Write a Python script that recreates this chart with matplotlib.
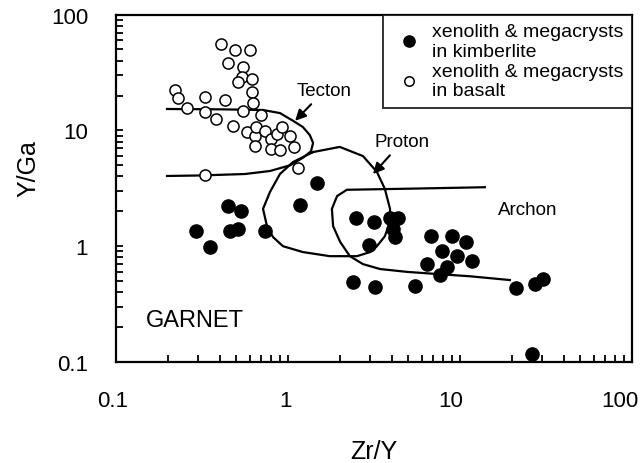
"""Diagrama Y/Ga contra Zr/Y para granadas de xenólitos e megacristais."""

import matplotlib

matplotlib.use("Agg")

import matplotlib.pyplot as plt  # noqa: E402
from matplotlib.ticker import FixedLocator, LogLocator  # noqa: E402
from matplotlib.transforms import ScaledTranslation  # noqa: E402

plt.rcParams["font.family"] = ["Liberation Sans", "DejaVu Sans"]

# granadas em kimberlito (círculos cheios)
KIMB_ZR_Y = [0.45, 0.53, 0.46, 0.51, 0.29, 0.35, 0.74, 1.17, 1.47, 2.49,
             3.16, 3.92, 4.36, 4.10, 4.19, 2.97, 2.38, 3.21, 5.48, 6.40,
             6.80, 8.95, 10.8, 7.83, 9.57, 11.7, 8.36, 7.65, 21.2, 27.3,
             30.5, 26.1]
KIMB_Y_GA = [2.21, 2.03, 1.36, 1.41, 1.36, 0.98, 1.35, 2.27, 3.48, 1.74,
             1.61, 1.74, 1.74, 1.41, 1.19, 1.02, 0.49, 0.44, 0.45, 0.70,
             1.23, 1.22, 1.08, 0.90, 0.83, 0.75, 0.66, 0.56, 0.435, 0.47,
             0.52, 0.117]

# granadas em basalto (círculos vazios)
BAS_ZR_Y = [0.41, 0.49, 0.60, 0.45, 0.55, 0.54, 0.62, 0.51, 0.62, 0.22,
            0.23, 0.26, 0.33, 0.43, 0.63, 0.33, 0.38, 0.48, 0.55, 0.70,
            0.58, 0.64, 0.65, 0.74, 0.64, 0.80, 0.86, 0.92, 1.03, 0.80,
            0.90, 1.08, 1.15, 0.33]
BAS_Y_GA = [55.7, 49.8, 49.8, 38.2, 35.1, 28.7, 27.8, 26.3, 21.6, 22.3,
            18.9, 15.6, 19.3, 18.3, 17.2, 14.3, 12.5, 11.0, 14.8, 13.6,
            9.63, 8.89, 10.6, 9.94, 7.38, 8.43, 9.31, 10.8, 8.89, 6.91,
            6.81, 7.15, 4.71, 4.14]

# campos (contornos)
TECTON_X = [0.198, 0.403, 0.716, 0.899, 1.07, 1.22, 1.34, 1.40, 1.36, 1.22,
            1.03, 0.786, 0.562, 0.308, 0.198]
TECTON_Y = [15.3, 15.2, 15.0, 14.1, 12.1, 10.7, 9.1, 7.8, 6.6, 5.8,
            5.0, 4.46, 4.20, 4.08, 4.04]

PROTON_X = [1.40, 2.00, 2.73, 3.29, 3.66, 3.92, 3.92, 3.66, 3.29, 3.00,
            2.52, 1.75, 1.22, 0.935, 0.818, 0.755, 0.716, 0.786, 0.898,
            1.07, 1.40]
PROTON_Y = [6.5, 7.2, 6.0, 4.38, 3.12, 2.10, 1.62, 1.22, 1.00, 0.89,
            0.82, 0.82, 0.89, 1.00, 1.20, 1.49, 2.10, 2.94, 4.20, 5.33, 6.5]

ARCHON_X = [13.96, 5.85, 2.20, 1.93, 1.80, 1.83, 2.01, 2.29, 2.73, 3.43,
            4.92, 7.35, 11.4, 19.5]
ARCHON_Y = [3.23, 3.15, 3.07, 2.71, 2.10, 1.49, 1.09, 0.82, 0.70, 0.635,
            0.60, 0.575, 0.55, 0.51]

TICKS = [0.1, 1, 10, 100]
TICK_LABELS = ["0.1", "1", "10", "100"]


def main() -> None:
    fig = plt.figure(figsize=(6.44, 4.64), dpi=100)
    ax = fig.add_axes([0.1801, 0.2177, 0.8012, 0.7487])

    for xs, ys in ((TECTON_X, TECTON_Y), (PROTON_X, PROTON_Y), (ARCHON_X, ARCHON_Y)):
        ax.plot(xs, ys, color="black", linewidth=1.6, zorder=2)

    ax.plot(KIMB_ZR_Y, KIMB_Y_GA, linestyle="none", marker="o", markersize=9.5,
            color="black", label="xenolith & megacrysts\nin kimberlite", zorder=3)
    ax.plot(BAS_ZR_Y, BAS_Y_GA, linestyle="none", marker="o", markersize=8,
            markerfacecolor="white", markeredgecolor="black", markeredgewidth=1.1,
            label="xenolith & megacrysts\nin basalt", zorder=3)

    arrow = dict(arrowstyle="-|>", color="black", lw=1.5, mutation_scale=16,
                 shrinkA=2, shrinkB=0)
    ax.annotate("Tecton", xy=(1.10, 12.1), xytext=(1.62, 21.9), fontsize=13.5,
                ha="center", va="center", arrowprops=arrow)
    ax.annotate("Proton", xy=(3.12, 4.20), xytext=(4.6, 7.94), fontsize=13.5,
                ha="center", va="center", arrowprops=arrow)
    ax.text(24.8, 2.06, "Archon", fontsize=13.5, ha="center", va="center")
    ax.text(0.288, 0.231, "GARNET", fontsize=17, ha="center", va="center")

    ax.set_xscale("log")
    ax.set_yscale("log")
    ax.set_xlim(0.1, 100)
    ax.set_ylim(0.1, 100)

    ax.set_xticks(TICKS, labels=TICK_LABELS)
    ax.set_yticks(TICKS, labels=TICK_LABELS)
    for axis in (ax.xaxis, ax.yaxis):
        axis.set_minor_locator(LogLocator(base=10, subs=range(2, 10)))
    ax.tick_params(which="both", direction="in", top=False, right=False,
                   width=1.3, length=5, labelsize=16, pad=20)

    # rótulos do eixo x levemente deslocados para a esquerda, como no original
    for label, dx in zip(ax.get_xticklabels(), (-3, -2, -9, -12)):
        label.set_transform(label.get_transform()
                            + ScaledTranslation(dx / 100, 0, fig.dpi_scale_trans))

    for spine in ax.spines.values():
        spine.set_linewidth(1.6)

    ax.set_xlabel("Zr/Y", fontsize=18, va="baseline")
    ax.set_ylabel("Y/Ga", fontsize=18)
    ax.xaxis.set_label_coords(0.5, -0.276)
    ax.yaxis.set_label_coords(-0.147, 0.561)

    leg = ax.legend(loc="upper right", bbox_to_anchor=(1.0, 1.0), borderaxespad=0,
                    fontsize=14, fancybox=False, handlelength=1.75,
                    handletextpad=0.3, borderpad=0.45, labelspacing=0.15,
                    markerscale=0.85)
    leg.get_frame().set_edgecolor("black")
    leg.get_frame().set_linewidth(1.4)

    fig.savefig("out.png", dpi=100, facecolor="white")
    plt.close(fig)


if __name__ == "__main__":
    main()
